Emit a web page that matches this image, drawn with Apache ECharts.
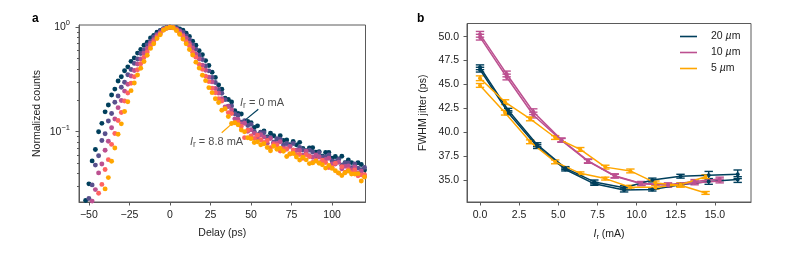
<!DOCTYPE html>
<html><head><meta charset="utf-8">
<script src="https://cdn.jsdelivr.net/npm/echarts@6/dist/echarts.min.js"></script>
<style>html,body{margin:0;padding:0;background:#fff}#c{width:785px;height:254px}</style>
</head><body><div id="c"></div>
<script>
// ---------- panel a data (delay in ps, log10 of normalized counts) ----------
const delayPs = [-54,-52,-50,-48,-46,-44,-42,-40,-38,-36,-34,-32,-30,-28,-26,-24,-22,-20,-18,-16,-14,-12,-10,-8,-6,-4,-2,0,2,4,6,8,10,12,14,16,18,20,22,24,26,28,30,32,34,36,38,40,42,44,46,48,50,52,54,56,58,60,62,64,66,68,70,72,74,76,78,80,82,84,86,88,90,92,94,96,98,100,102,104,106,108,110,112,114,116,118,120];
const log10_0mA = [-1.92,-1.66,-1.50,-1.28,-1.17,-1.00,-0.92,-0.81,-0.745,-0.648,-0.592,-0.515,-0.474,-0.416,-0.379,-0.326,-0.293,-0.247,-0.213,-0.172,-0.143,-0.103,-0.077,-0.048,-0.031,-0.013,-0.005,0,-0.002,-0.004,-0.016,-0.028,-0.057,-0.087,-0.133,-0.172,-0.224,-0.262,-0.319,-0.366,-0.43,-0.48,-0.552,
 -0.593,-0.68,-0.692,-0.715,-0.799,-0.825,-0.83,-0.911,-0.902,-0.913,-0.959,-0.944,-1.005,-0.994,-1.05,-1.014,-1.039,-1.071,-1.038,-1.085,-1.08,-1.124,-1.093,-1.126,-1.102,-1.16,-1.183,-1.156,-1.154,-1.196,-1.191,-1.235,-1.199,-1.20,-1.254,-1.238,-1.261,-1.236,-1.298,-1.272,-1.296,-1.332,-1.297,-1.314,-1.368];
const log10_2p2mA = [-2.03,-1.87,-1.64,-1.51,-1.32,-1.23,-1.085,-1.02,-0.898,-0.826,-0.718,-0.658,-0.574,-0.526,-0.455,-0.405,-0.346,-0.304,-0.251,-0.218,-0.168,-0.133,-0.092,-0.067,-0.038,-0.021,-0.004,0,-0.003,-0.009,-0.03,-0.047,-0.084,-0.117,-0.169,-0.21,-0.268,-0.308,-0.37,-0.417,-0.481,-0.529,-0.596,
 -0.632,-0.693,-0.756,-0.753,-0.828,-0.845,-0.91,-0.895,-0.941,-0.93,-0.998,-1.029,-1.007,-1.01,-1.057,-1.055,-1.101,-1.068,-1.072,-1.128,-1.113,-1.137,-1.113,-1.177,-1.152,-1.176,-1.212,-1.177,-1.194,-1.248,-1.201,-1.243,-1.243,-1.224,-1.281,-1.287,-1.265,-1.321,-1.30,-1.30,-1.346,-1.308,-1.349,-1.365,-1.342];
const log10_4p4mA = [-2.22,-2.0,-1.86,-1.665,-1.555,-1.395,-1.31,-1.178,-1.092,-0.962,-0.878,-0.77,-0.702,-0.611,-0.545,-0.466,-0.414,-0.351,-0.304,-0.249,-0.203,-0.152,-0.118,-0.078,-0.052,-0.02,-0.007,0,-0.002,-0.02,-0.04,-0.073,-0.105,-0.153,-0.197,-0.256,-0.304,-0.364,-0.411,-0.477,-0.523,-0.587,-0.631,
 -0.684,-0.763,-0.759,-0.793,-0.877,-0.883,-0.927,-0.919,-0.996,-0.982,-1.016,-1.06,-1.03,-1.052,-1.111,-1.066,-1.11,-1.113,-1.096,-1.155,-1.162,-1.141,-1.199,-1.179,-1.18,-1.226,-1.188,-1.229,-1.245,-1.222,-1.243,-1.29,-1.267,-1.255,-1.309,-1.31,-1.293,-1.356,-1.332,-1.328,-1.364,-1.339,-1.395,-1.379,-1.43];
const log10_6p6mA = [-2.37,-2.16,-2.04,-1.84,-1.745,-1.59,-1.505,-1.362,-1.268,-1.122,-1.018,-0.893,-0.816,-0.706,-0.63,-0.536,-0.474,-0.406,-0.349,-0.287,-0.237,-0.177,-0.138,-0.093,-0.062,-0.024,-0.008,0,-0.006,-0.022,-0.058,-0.087,-0.137,-0.176,-0.239,-0.286,-0.355,-0.403,-0.469,-0.52,-0.584,-0.627,-0.684,
 -0.706,-0.781,-0.817,-0.827,-0.915,-0.91,-0.95,-1.057,-0.986,-1.04,-1.064,-1.033,-1.077,-1.102,-1.085,-1.154,-1.122,-1.127,-1.185,-1.171,-1.168,-1.215,-1.174,-1.22,-1.218,-1.254,-1.22,-1.239,-1.295,-1.271,-1.296,-1.274,-1.296,-1.343,-1.34,-1.302,-1.397,-1.336,-1.389,-1.365,-1.392,-1.367,-1.423,-1.414,-1.411];
const log10_8p8mA = [-2.5,-2.33,-2.22,-2.035,-1.935,-1.79,-1.69,-1.548,-1.44,-1.283,-1.157,-1.025,-0.925,-0.806,-0.713,-0.607,-0.534,-0.457,-0.393,-0.327,-0.268,-0.202,-0.158,-0.108,-0.072,-0.028,-0.009,0,-0.005,-0.032,-0.068,-0.112,-0.157,-0.213,-0.266,-0.334,-0.391,-0.459,-0.511,-0.578,-0.626,-0.684,-0.721,
 -0.795,-0.78,-0.855,-0.921,-0.913,-0.934,-0.984,-1.001,-1.058,-1.067,-1.104,-1.097,-1.125,-1.116,-1.151,-1.182,-1.139,-1.169,-1.159,-1.187,-1.238,-1.211,-1.209,-1.242,-1.271,-1.245,-1.27,-1.306,-1.299,-1.282,-1.303,-1.317,-1.349,-1.323,-1.352,-1.374,-1.395,-1.42,-1.394,-1.377,-1.405,-1.406,-1.402,-1.473,-1.434];
const delayTicks = [-50,-25,0,25,50,75,100];
const countMajorTicks = [0.1,1];
const countMinorTicks = [0.03,0.04,0.05,0.06,0.07,0.08,0.09,0.2,0.3,0.4,0.5,0.6,0.7,0.8,0.9];
// annotation anchors (data coordinates)
const ann0Line = [[54.5,0.164],[46.3,0.129]];
const ann88Line = [[31.9,0.0978],[39.0,0.122]];
const ann0Text = [43.2,0.188];
const ann88Text = [12.3,0.0797];

// ---------- panel b data ----------
const ir20 = [0,1.8,3.65,5.45,7.3,9.2,11.0,12.8,14.6,16.45];
const jit20a = [46.8,42.3,38.7,36.25,34.8,34.2,35.0,35.4,35.5,35.6];
const err20a = [0.25,0.2,0.2,0.15,0.2,0.2,0.2,0.2,0.4,0.45];
const jit20b = [46.55,42.05,38.5,36.1,34.6,33.95,34.0,34.5,34.85,35.05];
const err20b = [0.25,0.2,0.2,0.15,0.15,0.2,0.15,0.15,0.3,0.3];
const ir10 = [0,1.7,3.4,5.2,6.9,8.6,10.3,12.0,13.7,15.3];
const jit10a = [50.25,46.1,42.15,39.2,37.0,35.45,34.65,34.5,34.85,35.1];
const err10a = [0.3,0.3,0.3,0.2,0.2,0.2,0.2,0.2,0.2,0.2];
const jit10b = [49.95,45.78,41.8,39.15,36.95,35.4,34.6,34.45,34.7,34.9];
const err10b = [0.3,0.3,0.3,0.2,0.2,0.2,0.2,0.2,0.2,0.2];
const ir5 = [0,1.6,3.2,4.8,6.4,8.0,9.6,11.2,12.8,14.4];
const jit5a = [45.65,43.15,41.4,39.45,38.2,36.35,35.95,34.7,34.45,33.65];
const err5a = [0.25,0.25,0.2,0.2,0.2,0.2,0.2,0.2,0.2,0.15];
const jit5b = [44.9,42.05,39.0,36.9,35.7,35.15,34.25,34.25,34.5,35.35];
const err5b = [0.2,0.25,0.2,0.2,0.15,0.15,0.2,0.2,0.2,0.2];
const irTicks = [0,2.5,5,7.5,10,12.5,15];
const jitTicks = [35,37.5,40,42.5,45,47.5,50];

// ---------- styling ----------
const FONT = '"Liberation Sans", Arial, Helvetica, sans-serif';
const AX = '#5a5a5a', TXT = '#222222';
const palette = ['#003f5c','#58508d','#bc5090','#ff6361','#ffa600'];
const sizeColor = {'20 µm':'#003f5c','10 µm':'#bc5090','5 µm':'#ffa600'};

const chart = echarts.init(document.getElementById('c'), null, {renderer:'canvas'});

const lbl = {color:TXT, fontSize:10.5, fontFamily:FONT};
const nameStyle = {color:TXT, fontSize:10.5, fontFamily:FONT};
const tick = (vals, len) => ({show:true, length:len, inside:false, lineStyle:{color:AX, width:1}, customValues:vals});
const axLine = {show:true, onZero:false, lineStyle:{color:AX}};

const logSets = [log10_0mA, log10_2p2mA, log10_4p4mA, log10_6p6mA, log10_8p8mA];
const scatterSeries = logSets.map((arr,k)=>({
  type:'scatter', xAxisIndex:0, yAxisIndex:0, symbol:'circle', symbolSize:4.9, silent:true, z:2+k,
  itemStyle:{color:palette[k], opacity:1},
  data: delayPs.map((x,i)=>[x, Math.pow(10, arr[i])])
}));

function errRender(color){
  return function(params, api){
    const x = api.value(0), y = api.value(1), e = api.value(2);
    const t = api.coord([x, y+e]), b = api.coord([x, y-e]);
    const hw = 4.2;
    const st = {stroke:color, lineWidth:1.4};
    return {type:'group', children:[
      {type:'line', shape:{x1:t[0],y1:t[1],x2:b[0],y2:b[1]}, style:st},
      {type:'line', shape:{x1:t[0]-hw,y1:t[1],x2:t[0]+hw,y2:t[1]}, style:st},
      {type:'line', shape:{x1:b[0]-hw,y1:b[1],x2:b[0]+hw,y2:b[1]}, style:st}
    ]};
  };
}
function jitterSeries(name, xs, ys, es){
  const c = sizeColor[name];
  return [
    {type:'line', name:name, xAxisIndex:1, yAxisIndex:2, symbol:'circle', symbolSize:4, showSymbol:true, silent:true,
     lineStyle:{color:c, width:1.5}, itemStyle:{color:c}, data: xs.map((x,i)=>[x, ys[i]])},
    {type:'custom', name:name, xAxisIndex:1, yAxisIndex:2, silent:true, renderItem:errRender(c),
     encode:{x:0,y:1}, data: xs.map((x,i)=>[x, ys[i], es[i]])}
  ];
}
const bSeries = [].concat(
  jitterSeries('20 µm', ir20, jit20a, err20a), jitterSeries('20 µm', ir20, jit20b, err20b),
  jitterSeries('10 µm', ir10, jit10a, err10a), jitterSeries('10 µm', ir10, jit10b, err10b),
  jitterSeries('5 µm', ir5, jit5a, err5a), jitterSeries('5 µm', ir5, jit5b, err5b)
);

const annRich = {
  i:{fontStyle:'italic', fontSize:11, fontFamily:FONT, color:TXT},
  s:{fontSize:8.5, fontFamily:FONT, color:TXT, padding:[6,0,0,0]},
  t:{fontSize:11, fontFamily:FONT, color:TXT}
};
const annSeries = [
  {type:'line', xAxisIndex:0, yAxisIndex:0, data:ann0Line, symbol:'none', silent:true, z:20,
   lineStyle:{color:'#003f5c', width:1.2}},
  {type:'line', xAxisIndex:0, yAxisIndex:0, data:ann88Line, symbol:'none', silent:true, z:20,
   lineStyle:{color:'#ffa600', width:1.2}},
  {type:'scatter', xAxisIndex:0, yAxisIndex:0, data:[ann0Text], symbolSize:0, silent:true, z:21,
   label:{show:true, position:'right', distance:0, formatter:'{i|I}{s|r}{t| = 0 mA}', rich:annRich}},
  {type:'scatter', xAxisIndex:0, yAxisIndex:0, data:[ann88Text], symbolSize:0, silent:true, z:21,
   label:{show:true, position:'right', distance:0, formatter:'{i|I}{s|r}{t| = 8.8 mA}', rich:annRich}}
];

const option = {
  animation:false,
  backgroundColor:'#ffffff',
  textStyle:{fontFamily:FONT},
  grid:[
    {left:79, top:25, width:286.5, height:177, show:true, borderColor:AX, borderWidth:1, backgroundColor:'transparent'},
    {left:467, top:23.5, width:284, height:178.5, show:true, borderColor:AX, borderWidth:1, backgroundColor:'transparent'}
  ],
  xAxis:[
    {gridIndex:0, type:'value', position:'bottom', min:-56.1, max:120.6,
     axisLine:axLine, axisTick:tick(delayTicks,3.5), splitLine:{show:false},
     axisLabel:Object.assign({customValues:delayTicks, margin:8, formatter:v=>String(v).replace('-','\u2212')}, lbl),
     name:'Delay (ps)', nameLocation:'middle', nameGap:26, nameTextStyle:nameStyle},
    {gridIndex:1, type:'value', position:'bottom', min:-0.83, max:17.3,
     axisLine:axLine, axisTick:tick(irTicks,3.5), splitLine:{show:false},
     axisLabel:Object.assign({customValues:irTicks, margin:8, formatter:v=>v.toFixed(1)}, lbl),
     name:'{i|I}{s|r}{t| (mA)}', nameLocation:'middle', nameGap:26,
     nameTextStyle:Object.assign({rich:{
       i:{fontStyle:'italic', fontSize:10.5, fontFamily:FONT, color:TXT},
       s:{fontSize:7.5, fontFamily:FONT, color:TXT, padding:[5,0,0,0]},
       t:{fontSize:10.5, fontFamily:FONT, color:TXT}}}, nameStyle)}
  ],
  yAxis:[
    {gridIndex:0, type:'log', logBase:10, position:'left', min:0.0212, max:1.052,
     axisLine:axLine, axisTick:tick(countMajorTicks,3.5), splitLine:{show:false}, minorTick:{show:false},
     axisLabel:{customValues:countMajorTicks, margin:9,
       formatter:v=>{const e=Math.round(Math.log10(v)); return '{b|10}{s|'+(e<0?'\u2212'+(-e):e)+'}';},
       rich:{b:{fontSize:10.5, fontFamily:FONT, color:TXT}, s:{fontSize:7.5, fontFamily:FONT, color:TXT, padding:[0,0,8,0]}}},
     name:'Normalized counts', nameLocation:'middle', nameGap:36, nameTextStyle:nameStyle},
    {gridIndex:0, type:'log', logBase:10, position:'left', offset:0, min:0.0212, max:1.052,
     axisLine:{show:false, onZero:false}, axisTick:tick(countMinorTicks,2), axisLabel:{show:false}, splitLine:{show:false}},
    {gridIndex:1, type:'value', position:'left', min:32.7, max:51.38,
     axisLine:axLine, axisTick:tick(jitTicks,3.5), splitLine:{show:false},
     axisLabel:Object.assign({customValues:jitTicks, margin:8, formatter:v=>v.toFixed(1)}, lbl),
     name:'FWHM jitter (ps)', nameLocation:'middle', nameGap:38, nameTextStyle:nameStyle}
  ],
  legend:{
    data:['20 µm','10 µm','5 µm'], orient:'vertical', left:680, top:31, padding:0, icon:'rect',
    itemWidth:17, itemHeight:1.6, itemGap:5, selectedMode:false,
    formatter:n=>n.replace('µ','{mu|µ}'),
    textStyle:{color:TXT, fontSize:10.5, fontFamily:FONT, padding:[0,0,0,9],
      rich:{mu:{fontStyle:'italic', fontSize:10.5, fontFamily:FONT, color:TXT}}}
  },
  graphic:[
    {type:'text', x:32, y:19, style:{text:'a', font:'bold 12px '+FONT, fill:'#000', verticalAlign:'middle'}},
    {type:'text', x:417, y:19, style:{text:'b', font:'bold 12px '+FONT, fill:'#000', verticalAlign:'middle'}}
  ],
  series: scatterSeries.concat(annSeries, bSeries)
};
chart.setOption(option);
</script></body></html>
